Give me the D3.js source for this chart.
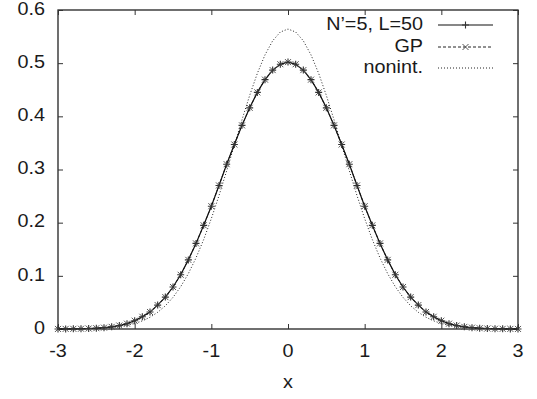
<!DOCTYPE html>
<html><head><meta charset="utf-8">
<script src="https://cdn.jsdelivr.net/npm/d3@7"></script>
<style>body{margin:0;background:#fff}svg{display:block}text{font-family:"Liberation Sans",Arial,sans-serif;fill:#1a1a1a}</style>
</head><body><svg id="c" width="537" height="399"></svg>
<script>
// x grid
const xs = [-3,-2.9,-2.8,-2.7,-2.6,-2.5,-2.4,-2.3,-2.2,-2.1,-2,-1.9,-1.8,-1.7,-1.6,-1.5,-1.4,-1.3,-1.2,-1.1,-1,-0.9,-0.8,-0.7,-0.6,-0.5,-0.4,-0.3,-0.2,-0.1,0,0.1,0.2,0.3,0.4,0.5,0.6,0.7,0.8,0.9,1,1.1,1.2,1.3,1.4,1.5,1.6,1.7,1.8,1.9,2,2.1,2.2,2.3,2.4,2.5,2.6,2.7,2.8,2.9,3];
const nPrime5 = [0.0001,0.0002,0.0003,0.0005,0.0009,0.0015,0.0025,0.004,0.0065,0.010,0.0155,0.023,0.032,0.045,0.060,0.079,0.102,0.130,0.161,0.195,0.231,0.270,0.310,0.347,0.383,0.416,0.445,0.469,0.487,0.498,0.502,0.498,0.487,0.469,0.445,0.416,0.383,0.347,0.310,0.270,0.231,0.195,0.161,0.130,0.102,0.079,0.060,0.045,0.032,0.023,0.0155,0.010,0.0065,0.004,0.0025,0.0015,0.0009,0.0005,0.0003,0.0002,0.0001];
const gp = [0.0001,0.0002,0.0003,0.0005,0.0009,0.0015,0.0025,0.004,0.0065,0.010,0.0156,0.023,0.032,0.045,0.060,0.079,0.102,0.130,0.161,0.195,0.231,0.270,0.310,0.347,0.383,0.416,0.445,0.469,0.487,0.498,0.502,0.498,0.487,0.469,0.445,0.416,0.383,0.347,0.310,0.270,0.231,0.195,0.161,0.130,0.102,0.079,0.060,0.045,0.032,0.023,0.0156,0.010,0.0065,0.004,0.0025,0.0015,0.0009,0.0005,0.0003,0.0002,0.0001];
const nonint = [0.0001,0.0001,0.0002,0.0004,0.0007,0.0011,0.0018,0.0028,0.0045,0.0069,0.0103,0.0153,0.0221,0.0314,0.0436,0.0595,0.0795,0.1041,0.1337,0.1682,0.2076,0.2510,0.2975,0.3456,0.3936,0.4394,0.4808,0.5156,0.5421,0.5586,0.5642,0.5586,0.5421,0.5156,0.4808,0.4394,0.3936,0.3456,0.2975,0.2510,0.2076,0.1682,0.1337,0.1041,0.0795,0.0595,0.0436,0.0314,0.0221,0.0153,0.0103,0.0069,0.0045,0.0028,0.0018,0.0011,0.0007,0.0004,0.0002,0.0001,0.0001];
const xTicks = [-3,-2,-1,0,1,2,3];
const yTicks = [0,0.1,0.2,0.3,0.4,0.5,0.6];
const yTickLabels = ["0","0.1","0.2","0.3","0.4","0.5","0.6"];
const legendLabels = ["N\u2019=5, L=50","GP","nonint."];
const xLabel = "x";

const svg = d3.select("#c");
const L=58,R=518,T=10,B=329;
const x = d3.scaleLinear().domain([-3,3]).range([L,R]);
const y = d3.scaleLinear().domain([0,0.6]).range([B,T]);
const FS = 18, SX = 1.1;

// frame
svg.append("rect").attr("x",L).attr("y",T).attr("width",R-L).attr("height",B-T)
  .attr("fill","none").attr("stroke","#222").attr("stroke-width",1.3);

// axes ticks (inward, mirrored)
const tk = 5;
const gxB = svg.append("g").attr("transform",`translate(0,${B})`)
  .call(d3.axisBottom(x).tickValues(xTicks).tickSize(-tk).tickFormat(""));
const gxT = svg.append("g").attr("transform",`translate(0,${T})`)
  .call(d3.axisTop(x).tickValues(xTicks).tickSize(-tk).tickFormat(""));
const gyL = svg.append("g").attr("transform",`translate(${L},0)`)
  .call(d3.axisLeft(y).tickValues(yTicks).tickSize(-tk).tickFormat(""));
const gyR = svg.append("g").attr("transform",`translate(${R},0)`)
  .call(d3.axisRight(y).tickValues(yTicks).tickSize(-tk).tickFormat(""));
[gxB,gxT,gyL,gyR].forEach(g=>{g.select(".domain").remove();g.selectAll("line").attr("stroke","#333").attr("stroke-width",1);});

// tick labels
function stext(px,py,str,anchor){
  const t = svg.append("text").attr("transform",`translate(${px},${py}) scale(${SX},1)`)
    .attr("font-size",FS).attr("text-anchor",anchor).attr("dominant-baseline","middle").text(str);
  return t;
}
xTicks.forEach(v=>stext(x(v),352,String(v),"middle"));
yTicks.forEach((v,i)=>stext(45,y(v),yTickLabels[i],"end"));
stext((L+R)/2,383,xLabel,"middle");

// lines
const pts = arr => xs.map((v,i)=>[v,arr[i]]);
const line = d3.line().x(d=>x(d[0])).y(d=>y(d[1]));
svg.append("path").attr("d",line(pts(nonint))).attr("fill","none").attr("stroke","#222").attr("stroke-width",1).attr("stroke-dasharray","1,2");
svg.append("path").attr("d",line(pts(gp))).attr("fill","none").attr("stroke","#222").attr("stroke-width",1).attr("stroke-dasharray","3,2");
svg.append("path").attr("d",line(pts(nPrime5))).attr("fill","none").attr("stroke","#111").attr("stroke-width",1.2);

const plus = (g,cx,cy,s)=>g.append("path").attr("d",`M${cx-s},${cy}H${cx+s}M${cx},${cy-s}V${cy+s}`).attr("stroke","#333").attr("stroke-width",1.1).attr("fill","none");
const cross = (g,cx,cy,s)=>g.append("path").attr("d",`M${cx-s},${cy-s}L${cx+s},${cy+s}M${cx-s},${cy+s}L${cx+s},${cy-s}`).attr("stroke","#555").attr("stroke-width",1).attr("fill","none");
const mg = svg.append("g");
pts(gp).forEach(d=>cross(mg,x(d[0]),y(d[1]),3));
pts(nPrime5).forEach(d=>plus(mg,x(d[0]),y(d[1]),3.5));

// legend
const lg = svg.append("g");
const rowsY = [25,47,68];
legendLabels.forEach((s,i)=>stext(423,rowsY[i],s,"end"));
const lx1=438,lx2=493,lm=(lx1+lx2)/2;
lg.append("line").attr("x1",lx1).attr("x2",lx2).attr("y1",rowsY[0]).attr("y2",rowsY[0]).attr("stroke","#111").attr("stroke-width",1.2);
plus(lg,lm,rowsY[0],3.5);
lg.append("line").attr("x1",lx1).attr("x2",lx2).attr("y1",rowsY[1]).attr("y2",rowsY[1]).attr("stroke","#222").attr("stroke-width",1).attr("stroke-dasharray","3,2");
cross(lg,lm,rowsY[1],3);
lg.append("line").attr("x1",lx1).attr("x2",lx2).attr("y1",rowsY[2]).attr("y2",rowsY[2]).attr("stroke","#222").attr("stroke-width",1).attr("stroke-dasharray","1,2");
</script></body></html>
